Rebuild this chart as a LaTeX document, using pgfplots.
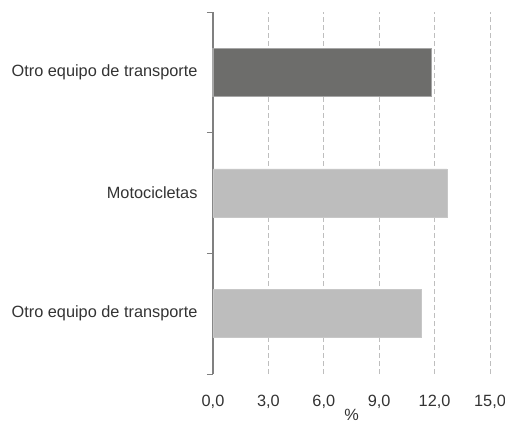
\documentclass[border=0pt]{standalone}
\usepackage{pgfplots}
\pgfplotsset{compat=1.18}
\usepackage{fontspec}
\setmainfont{Liberation Sans}
\definecolor{txt}{HTML}{333333}
\definecolor{darkbar}{HTML}{6D6D6B}
\definecolor{darkedge}{HTML}{A6A6A6}
\definecolor{lightbar}{HTML}{BDBDBD}
\definecolor{gridc}{HTML}{BEBEBE}
\definecolor{axc}{HTML}{808080}
\begin{document}
\begin{tikzpicture}
\begin{axis}[
  at={(0,0)}, anchor=south west,
  scale only axis,
  width=277pt, height=362pt,
  xmin=0, xmax=15,
  ymin=-0.5, ymax=2.5,
  xtick={3,6,9,12,15},
  extra x ticks={0},
  extra x tick style={grid=none},
  ytick={-0.5,0.5,1.5,2.5},
  yticklabels={},
  extra y ticks={0,1,2},
  extra y tick labels={Otro equipo de transporte,Motocicletas,Otro equipo de transporte},
  extra y tick style={major tick length=0pt, yticklabel style={xshift=-12pt}},
  tick align=outside,
  major tick length=6pt,
  ytick style={axc, line width=0.8pt},
  xtick style={draw=none},
  axis y line*=left,
  axis x line*=bottom,
  x axis line style={draw=none},
  y axis line style={axc, line width=1.2pt, -},
  xmajorgrids,
  major grid style={gridc, line width=0.8pt, dash pattern=on 5pt off 3pt},
  /pgf/number format/.cd, use comma, fixed, fixed zerofill, precision=1, assume math mode=true,
  /pgfplots/.cd,
  ticklabel style={font=\fontsize{16.3}{19}\selectfont, text=txt},
  xticklabel style={yshift=-12pt},
  xlabel={\%},
  xlabel style={font=\fontsize{16.3}{19}\selectfont, text=txt, inner sep=0pt, at={(axis description cs:0.5,0)}, anchor=center, yshift=-41pt},
  clip=false,
]
\addplot[xbar, bar shift=0pt, bar width=48pt, fill=lightbar, draw=lightbar!85!white, line width=0.8pt] coordinates {(11.27,0) (12.67,1)};
\addplot[xbar, bar shift=0pt, bar width=48pt, fill=darkbar, draw=darkedge, line width=1.2pt] coordinates {(11.83,2)};
\end{axis}
\pgfresetboundingbox
\path[use as bounding box] (-213pt,-49pt) rectangle (292pt,374pt);
\end{tikzpicture}
\end{document}
